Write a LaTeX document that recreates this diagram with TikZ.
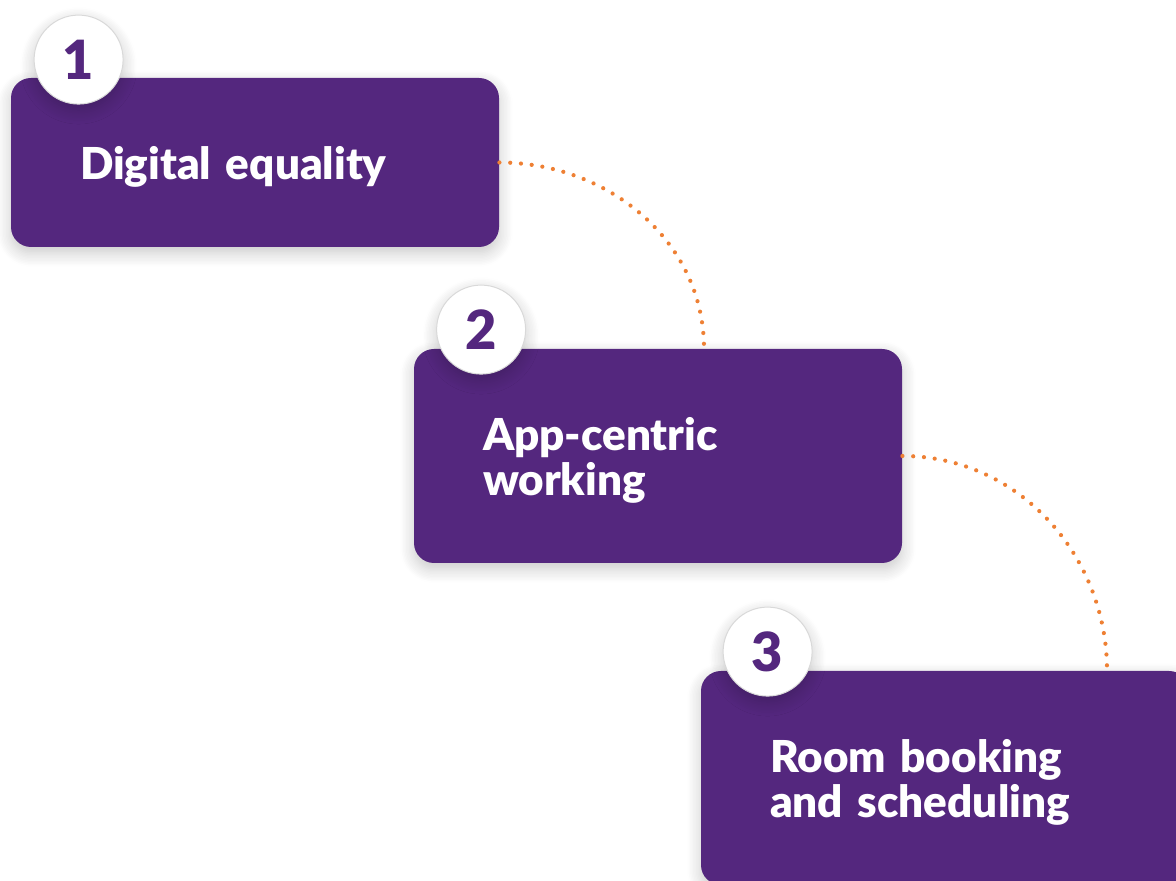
\documentclass[tikz,border=0pt]{standalone}
\usepackage{fontspec}
\setmainfont{Lato}
\newfontfamily\heavy{Lato Black}
\usetikzlibrary{calc,shadows.blur}
\definecolor{plum}{HTML}{54277E}
\definecolor{trailorange}{HTML}{EE8034}
\tikzset{
  every picture/.style={line cap=round, line join=round},
  shadow/.style={
    blur shadow={
      shadow blur steps=10,
      shadow blur radius=7pt,
      shadow xshift=0pt,
      shadow yshift=-3pt,
      shadow opacity=22
    }
  },
  card/.style={
    fill=plum,
    rounded corners=10pt,
    text=white,
    align=left,
    text width=175pt,
    text depth=22.5pt,
    inner xsep=34.5pt,
    inner ysep=0pt,
    minimum height=107pt,
    font=\fontsize{22}{22.5}\heavy,
    shadow
  },
  badge/.style={
    circle,
    fill=white,
    draw=black!15,
    line width=0.5pt,
    minimum size=44.5pt,
    inner sep=0pt,
    text=plum,
    font=\fontsize{27}{27}\heavy,
    shadow
  },
  trail/.style={draw=trailorange, line width=2.1pt, dash pattern=on 0pt off 5.4pt}
}
\begin{document}
\begin{tikzpicture}[x=0.5pt,y=0.5pt]
  \useasboundingbox (0,0) rectangle (1176,881);

  \node[card, minimum height=84.5pt, text depth=0pt] (eq) at (255,718.5) {Digital equality};
  \node[card] (app) at (658,425) {App-centric\\working};
  \node[card] (room) at (945,103) {Room booking\\and scheduling};

  % dotted trail between the cards
  \draw[trail] (eq.east) to[out=0,in=90] ($(app.north)+(46,0)$);
  \draw[trail] (app.east) to[out=0,in=90] ($(room.north)+(162,0)$);

  \node[badge] (n1) at ($(eq.north west)+(68,18)$) {1};
  \node[badge] (n2) at ($(app.north west)+(67.5,19)$) {2};
  \node[badge] (n3) at ($(room.north west)+(67,19)$) {3};
\end{tikzpicture}
\end{document}
